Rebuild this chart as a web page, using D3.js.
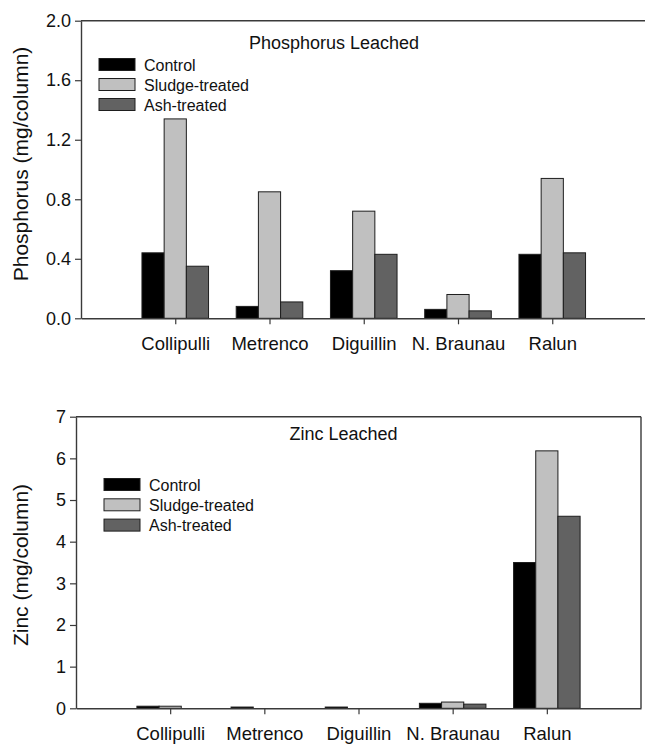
<!DOCTYPE html>
<html>
<head>
<meta charset="utf-8">
<script src="https://cdn.jsdelivr.net/npm/d3@7"></script>
<style>
  html, body { margin: 0; padding: 0; background: #fff; }
  svg { display: block; font-family: "Liberation Sans", Arial, sans-serif; }
</style>
</head>
<body>
<svg id="chart" width="645" height="744"></svg>
<script>
const categories = ["Collipulli", "Metrenco", "Diguillin", "N. Braunau", "Ralun"];
const seriesNames = ["Control", "Sludge-treated", "Ash-treated"];

const phosControl = [0.44, 0.08, 0.32, 0.06, 0.43];
const phosSludge  = [1.34, 0.85, 0.72, 0.16, 0.94];
const phosAsh     = [0.35, 0.11, 0.43, 0.05, 0.44];
const phosTicks   = [0.0, 0.4, 0.8, 1.2, 1.6, 2.0];

const zincControl = [0.05, 0.03, 0.03, 0.12, 3.50];
const zincSludge  = [0.05, 0.00, 0.00, 0.15, 6.18];
const zincAsh     = [0.00, 0.00, 0.00, 0.10, 4.61];
const zincTicks   = [0, 1, 2, 3, 4, 5, 6, 7];

const colors = ["#000000", "#c0c0c0", "#626262"];
const axisColor = "#3a3a3a";
const textColor = "#111111";

const svg = d3.select("#chart");

function drawPanel(cfg) {
  const g = svg.append("g");
  const x = d3.scaleLinear().domain([0, categories.length + 1]).range([cfg.left, cfg.right]);
  const y = d3.scaleLinear().domain([0, cfg.ymax]).range([cfg.bottom, cfg.top]);
  const step = x(1) - x(0);
  const bw = step * 0.2355;

  // bars
  cfg.series.forEach((vals, si) => {
    g.selectAll(null)
      .data(vals)
      .enter()
      .append("rect")
      .attr("x", (d, i) => x(i + 1) + (si - 1.5) * bw)
      .attr("y", d => y(d))
      .attr("width", bw)
      .attr("height", d => y(0) - y(d))
      .attr("fill", colors[si])
      .attr("stroke", "#1e1e1e")
      .attr("stroke-width", 1);
  });

  // frame lines (top, right)
  g.append("line")
    .attr("x1", cfg.left).attr("x2", cfg.right)
    .attr("y1", cfg.top).attr("y2", cfg.top)
    .attr("stroke", axisColor).attr("stroke-width", 1.4);
  if (cfg.rightBorder) {
    g.append("line")
      .attr("x1", cfg.right).attr("x2", cfg.right)
      .attr("y1", cfg.top).attr("y2", cfg.bottom)
      .attr("stroke", axisColor).attr("stroke-width", 1.4);
  }

  // y axis
  const yAxis = d3.axisLeft(y)
    .tickValues(cfg.ticks)
    .tickFormat(cfg.fmt)
    .tickSizeInner(6).tickSizeOuter(0).tickPadding(4);
  const ya = g.append("g").attr("transform", `translate(${cfg.left},0)`).call(yAxis);
  ya.select(".domain").attr("stroke", axisColor).attr("stroke-width", 1.4);
  ya.selectAll(".tick line").attr("stroke", axisColor).attr("stroke-width", 1.2);
  ya.selectAll(".tick text").attr("fill", textColor).style("font-size", "18px");

  // x axis
  const xAxis = d3.axisBottom(x)
    .tickValues(d3.range(1, categories.length + 1))
    .tickFormat(d => categories[d - 1])
    .tickSizeInner(6).tickSizeOuter(0).tickPadding(13);
  const xa = g.append("g").attr("transform", `translate(0,${cfg.bottom})`).call(xAxis);
  xa.select(".domain").attr("stroke", axisColor).attr("stroke-width", 1.4);
  xa.selectAll(".tick line").attr("stroke", axisColor).attr("stroke-width", 1.2);
  xa.selectAll(".tick text").attr("fill", textColor).style("font-size", "18.5px");

  // y label
  g.append("text")
    .attr("transform", `translate(${cfg.ylabelX},${cfg.ylabelY}) rotate(-90)`)
    .attr("text-anchor", "middle")
    .attr("fill", textColor)
    .style("font-size", "21px")
    .text(cfg.ylabel);

  // title
  g.append("text")
    .attr("x", cfg.titleX).attr("y", cfg.titleY)
    .attr("text-anchor", "middle")
    .attr("fill", textColor)
    .style("font-size", "18px")
    .text(cfg.title);

  // legend
  seriesNames.forEach((name, si) => {
    const ly = cfg.legendY + si * cfg.legendStep;
    g.append("rect")
      .attr("x", cfg.legendX).attr("y", ly)
      .attr("width", 36).attr("height", 12)
      .attr("fill", colors[si])
      .attr("stroke", "#1e1e1e").attr("stroke-width", 1);
    g.append("text")
      .attr("x", cfg.legendX + 45).attr("y", ly + 12.3)
      .attr("fill", textColor)
      .style("font-size", "16px")
      .text(name);
  });
}

drawPanel({
  left: 81, right: 646.5, top: 20.7, bottom: 318.3,
  ymax: 2.0, ticks: phosTicks, fmt: d3.format(".1f"),
  series: [phosControl, phosSludge, phosAsh],
  rightBorder: false,
  ylabel: "Phosphorus (mg/column)", ylabelX: 27.5, ylabelY: 164,
  title: "Phosphorus Leached", titleX: 334, titleY: 49,
  legendX: 99, legendY: 58.5, legendStep: 20
});

drawPanel({
  left: 76, right: 641, top: 416.7, bottom: 708.3,
  ymax: 7, ticks: zincTicks, fmt: d3.format("d"),
  series: [zincControl, zincSludge, zincAsh],
  rightBorder: true,
  ylabel: "Zinc (mg/column)", ylabelX: 27.5, ylabelY: 565,
  title: "Zinc Leached", titleX: 343.5, titleY: 440,
  legendX: 104, legendY: 478.5, legendStep: 20.3
});
</script>
</body>
</html>
